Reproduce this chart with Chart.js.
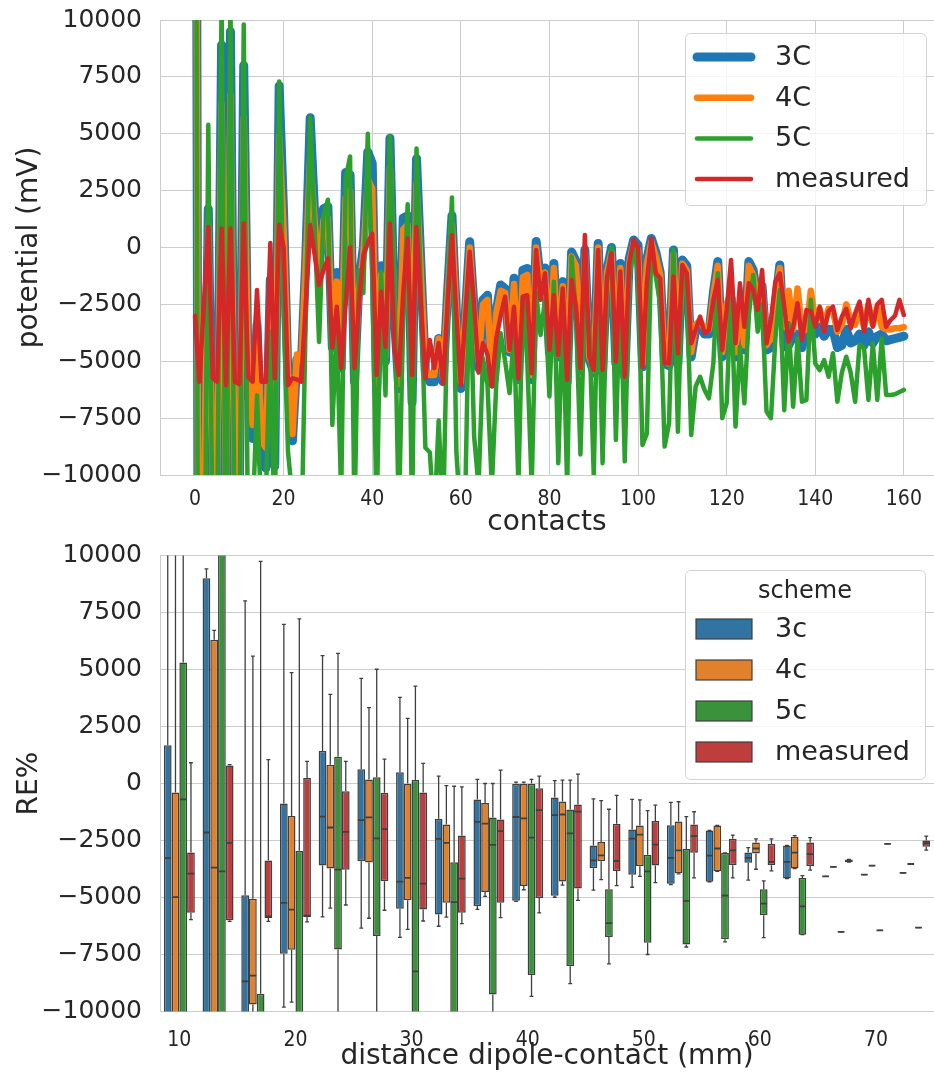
<!DOCTYPE html>
<html>
<head>
<meta charset="utf-8">
<script src="https://cdn.jsdelivr.net/npm/chart.js@4.4.1/dist/chart.umd.min.js"></script>
<style>
  html, body { margin: 0; padding: 0; background: #ffffff; }
  #wrap { position: relative; width: 934px; height: 1077px; }
  #potentialChart { position: absolute; left: 0; top: 0; }
  #errorChart { position: absolute; left: 0; top: 540px; }
</style>
</head>
<body>
<div id="wrap">
  <canvas id="potentialChart" width="934" height="540"></canvas>
  <canvas id="errorChart" width="934" height="537"></canvas>
</div>
<script>
// ---------- potential along the contacts (mV) ----------
const contacts = Array.from({ length: 161 }, (_, i) => i);

const pot3C = [
  45000, -40000, -12000, 1700, -11000, -10500, 8900, -12000, 9500, -12000,
  -11000, 8000, -6000, -8400, -3400, -9500, -9700, -1400, -9600, 7100,
  1500, -5900, -8500, -4900, -5200, -500, 5700, 1500, -1000, 1700,
  1800, -4400, -1100, -5300, 3300, 3200, -5900, -1500, 0, 4200,
  3700, -6300, -800, -5000, 4800, -3000, -6200, 1300, 1400, -6800,
  3900, -800, -5500, -5900, -5900, -4000, -5900, -2000, 1400, -3000,
  -6200, -3000, 250, -2700, -5300, -2300, -2100, -6000, -2800, -1650,
  -1800, -4600, -1350, -5800, -1000, -920, -5800, 260, -1500, -900,
  -4600, -700, -4800, -1500, -5900, -200, -600, -5400, -100, -4900,
  -5500, 180, -5500, -1000, 0, -5100, -700, -5700, -500, 330,
  100, -5240, -500, 400, -200, -1100, -5100, -5200, -110, -5100,
  -550, -800, -4800, -3600, -3400, -3800, -3800, -2000, -620, -4800,
  -2700, -2200, -4800, -2600, -4500, -620, -1000, -2400, -1700, -4500,
  -4400, -2500, -770, -4360, -4300, -3900, -3800, -4400, -3300, -3700,
  -3800, -3500, -3900, -3600, -3600, -4400, -4300, -3600, -4200, -4100,
  -3800, -4300, -3700, -4200, -3900, -3800, -4100, -4050, -4000, -3950,
  -3900
];

const pot4C = [
  40000, -35000, -11000, 1000, -10500, -10000, 6300, -11000, 6700, -11000,
  -10500, 5700, -5500, -7800, -3000, -8500, -8800, -2000, -8500, 4900,
  800, -5500, -8200, -4700, -5000, -700, 3900, 1200, -1200, 1200,
  1300, -4200, -1500, -5000, 2200, 2500, -5600, -1800, -300, 3000,
  2600, -6000, -1200, -4800, 3500, -3000, -6000, 800, 1000, -6300,
  2800, -1200, -5300, -5600, -5600, -4000, -5700, -2200, 1000, -3000,
  -5900, -3000, 0, -2800, -5000, -2500, -2300, -5800, -2900, -1900,
  -2000, -4500, -1600, -5600, -1300, -1200, -5600, 0, -1700, -1100,
  -4500, -900, -4700, -1700, -5700, -400, -800, -5300, -300, -4800,
  -5400, 0, -5400, -1100, -200, -5000, -900, -5600, -700, 200,
  -100, -5100, -700, 250, -400, -1200, -5000, -5100, -300, -5000,
  -700, -1000, -4600, -3400, -3200, -3600, -3600, -2100, -800, -4600,
  -2500, -2000, -4600, -2400, -4300, -800, -1200, -2300, -1600, -4300,
  -4000, -2000, -900, -3500, -1900, -3600, -1800, -3700, -3600, -1900,
  -3300, -2700, -3400, -2700, -2800, -3700, -3400, -2500, -3200, -3400,
  -2600, -3500, -2500, -3400, -2600, -3500, -3600, -3600, -3550, -3550,
  -3500
];

const pot5C = [
  40000, -45000, -20000, 5400, -14000, -13000, 11000, -16000, 11000, -15000,
  -14000, 9800, -14000, -12000, -6500, -12000, -11000, -3700, -13000, 7300,
  -3000, -9000, -11000, -12000, -13000, -3000, 5700, 1000, -4150, 1400,
  2100, -7800, -3500, -11000, 3000, 4000, -12000, -1000, -2000, 5000,
  -1000, -12000, -1070, -6500, 4900, -1500, -12000, -3000, 1900, -12000,
  4350, -2000, -8800, -9000, -12000, -7600, -12000, -2500, 2200, -9000,
  -12000, -11000, -800, -8300, -10500, -4870, -6000, -10500, -6000, -3770,
  -5000, -6400, -3800, -10500, -2160, -5000, -10500, -2000, -3850, -2300,
  -6550, -1500, -9480, -2500, -10500, -400, -3000, -9100, -2000, -3500,
  -10000, -1000, -9480, -1500, 0, -8460, -1500, -9400, -1500, 0,
  -1000, -8680, -8170, 0, -1280, -2500, -8750, -7720, -110, -8100,
  -840, -2000, -8240, -6110, -5680, -6260, -6630, -5090, -1130, -7500,
  -6850, -2000, -7870, -4360, -6850, -3000, -1210, -3700, -2500, -7210,
  -7500, -4000, -1870, -7150, -3330, -7000, -4000, -6780, -6700, -2300,
  -5100, -5390, -4950, -5680, -4650, -6780, -5500, -4800, -5500, -6780,
  -4280, -4400, -6700, -4210, -6700, -4000, -6480, -6480, -6450, -6350,
  -6260
];

const potMeasured = [
  -3000, -5900, -2500, 900, -5750, -5900, 830, -6050, 830, -5900,
  -6000, 1050, -5700, -5900, -1870, -5900, -5900, 200, -5750, 1000,
  0, -6050, -5750, -5800, -5900, -2500, 980, -300, -1650, -1000,
  -480, -4400, -2600, -5300, -2500, 0, -5300, -2500, -340, 200,
  600, -5600, -1950, -4360, 1050, -4440, -5600, -2000, 400, -5600,
  900, -2500, -5750, -4070, -5300, -4200, -5980, -2500, 540, -3000,
  -6050, -3000, -190, -2500, -5500, -4200, -4700, -6100, -4000, -3000,
  -2160, -4500, -2600, -5750, -2160, -2100, -5530, -110, -2300, -1130,
  -4500, -2100, -4720, -1800, -5820, -1430, -2600, -5300, 550, -4800,
  -5380, -110, -5380, -1280, -260, -5020, -1060, -5680, -700, 330,
  0, -5240, -1500, 400, -1130, -1355, -5090, -5090, -1280, -4650,
  -770, -1130, -4210, -3630, -3040, -3770, -3630, -2300, -1430, -4500,
  -2750, -550, -4200, -1575, -3480, -1575, -1870, -2750, -990, -4210,
  -3190, -1500, -1140, -2600, -4140, -3500, -2450, -4070, -2750, -2800,
  -3480, -2600, -3700, -2800, -2600, -3630, -3040, -2700, -3550, -2890,
  -2380, -3700, -2300, -3480, -2500, -2300, -3480, -3190, -3000, -2300,
  -2970
];

const contactTicks = [0, 20, 40, 60, 80, 100, 120, 140, 160];
const potentialTicks = [-10000, -7500, -5000, -2500, 0, 2500, 5000, 7500, 10000];

// ---------- relative error by dipole-contact distance ----------
// each entry: [lower whisker, q1, median, q3, upper whisker]
const distanceMm = [10, 13.33, 16.67, 20, 23.33, 26.67, 30, 33.33, 36.67, 40,
                    43.33, 46.67, 50, 53.33, 56.67, 60, 63.33, 66.67, 70, 73.33];
const distanceTicks = [10, 20, 30, 40, 50, 60, 70];
const errorTicks = [-10000, -7500, -5000, -2500, 0, 2500, 5000, 7500, 10000];

const re3c = [
  [-40000, -15000, -3270, 1680, 30000],
  [-40000, -15000, -2150, 9000, 9410],
  [-40000, -15000, -8680, -4900, 8010],
  [-9810, -7470, -5240, -880, 6980],
  [-5850, -3600, -1450, 1420, 5610],
  [-6340, -3410, -1610, 620, 4610],
  [-6750, -5490, -4300, 490, 3780],
  [-6260, -5750, -2430, -1550, 320],
  [-5520, -5370, -1680, -700, 180],
  [-5170, -5140, -1470, 0, 60],
  [-4990, -4920, -1390, -610, 130],
  [-4680, -3720, -3370, -2720, -670],
  [-4550, -4000, -2420, -2020, -700],
  [-4430, -4400, -3260, -1830, -830],
  [-4310, -4310, -3160, -2060, -2060],
  [-4240, -3480, -3260, -3030, -2810],
  [-4170, -4170, -3440, -2720, -2720],
  [-4070, -4070, -4070, -4070, -4070],
  [-4000, -4000, -4000, -4000, -4000],
  [-3920, -3920, -3920, -3920, -3920]
];
const re4c = [
  [-40000, -15000, -4980, -395, 30000],
  [-40000, -15000, -3690, 6310, 6720],
  [-15000, -9690, -8430, -5060, 5590],
  [-9590, -7290, -5530, -1430, 4860],
  [-5470, -3730, -1930, 820, 3910],
  [-5910, -3470, -1490, 180, 3330],
  [-6400, -5120, -4140, 0, 2860],
  [-5860, -5230, -2600, -1800, -90],
  [-4950, -4760, -1760, -860, 0],
  [-4660, -4500, -1530, 0, 60],
  [-4460, -4300, -1360, -790, 150],
  [-4220, -3410, -3150, -2570, -750],
  [-4070, -3630, -2240, -1840, -720],
  [-3960, -3940, -2930, -1670, -800],
  [-3850, -3850, -2850, -1840, -1840],
  [-3760, -3070, -2850, -2590, -2430],
  [-3730, -3730, -3030, -2340, -2290],
  [-3660, -3660, -3660, -3660, -3660],
  [-3600, -3600, -3600, -3600, -3600],
  [-3530, -3530, -3530, -3530, -3530]
];
const re5c = [
  [-40000, -15000, -700, 5310, 30000],
  [-40000, -15000, -3850, 15000, 30000],
  [-40000, -15000, -11000, -9220, 9740],
  [-40000, -15000, -10500, -2950, 7220],
  [-15000, -7280, -3780, 1170, 5710],
  [-15000, -6690, -2410, 270, 5010],
  [-20000, -12000, -8240, 150, 4270],
  [-20000, -12000, -5200, -3450, -120],
  [-12000, -9250, -2690, -1490, 0],
  [-9340, -8400, -2370, 0, 180],
  [-8780, -8010, -2190, -1140, 150],
  [-7910, -6730, -6120, -4640, -1130],
  [-7500, -6990, -3850, -3120, -1190],
  [-7170, -7060, -5150, -2870, -1450],
  [-6950, -6830, -4920, -3040, -3040],
  [-6760, -5780, -5270, -4640, -4270],
  [-6630, -6630, -5390, -4140, -4040],
  [-6510, -6510, -6510, -6510, -6510],
  [-6440, -6440, -6440, -6440, -6440],
  [-6320, -6320, -6320, -6320, -6320]
];
const reMeasured = [
  [-5970, -5670, -3950, -3030, 910],
  [-6050, -6000, -2600, 790, 830],
  [-6050, -5900, -5830, -3380, 1050],
  [-6070, -5850, -5800, 240, 970],
  [-5330, -3780, -2120, -340, 970],
  [-5560, -4290, -2000, -410, 1070],
  [-6030, -5530, -4390, -400, 880],
  [-6150, -5670, -4170, -2280, -150],
  [-5880, -5230, -2090, -1580, 590],
  [-5670, -5020, -1170, -210, 320],
  [-5130, -4610, -1230, -920, 410],
  [-4480, -3840, -3400, -1760, -520],
  [-4350, -3600, -2680, -1650, -950],
  [-4140, -3040, -2310, -1800, -1240],
  [-4140, -3590, -2930, -2420, -2260],
  [-3830, -3590, -3440, -2650, -2430],
  [-3800, -3620, -3100, -2590, -2370],
  [-3450, -3450, -3390, -3330, -3330],
  [-2650, -2650, -2650, -2650, -2650],
  [-2920, -2770, -2620, -2500, -2310]
];

// ---------- shared styling ----------
const textColor = '#262626';
const gridColor = '#cccccc';
const edgeGray = '#3f3f3f';
const baseFont = "'DejaVu Sans', 'Liberation Sans', sans-serif";
const narrowFont = "'DejaVu Sans Condensed', 'DejaVu Sans', sans-serif";

function minusLabel(v) {
  return v < 0 ? '\u2212' + Math.abs(v) : String(v);
}

// keep the plot box where the layout padding puts it
function fixedLeftAxis(s) {
  s.width = 160;
  s.paddingTop = 0;
  s.paddingBottom = 0;
}

function legendFrame(ctx, x, y, w, h, r) {
  ctx.beginPath();
  ctx.moveTo(x + r, y);
  ctx.arcTo(x + w, y, x + w, y + h, r);
  ctx.arcTo(x + w, y + h, x, y + h, r);
  ctx.arcTo(x, y + h, x, y, r);
  ctx.arcTo(x, y, x + w, y, r);
  ctx.closePath();
  ctx.fillStyle = 'rgba(255,255,255,0.8)';
  ctx.fill();
  ctx.strokeStyle = '#d4d4d4';
  ctx.lineWidth = 1;
  ctx.stroke();
}

// legend with line samples for the potential chart
const lineLegend = {
  id: 'lineLegend',
  afterDraw(chart) {
    const ctx = chart.ctx;
    ctx.save();
    legendFrame(ctx, 685.5, 33.5, 241, 172, 5);
    ctx.font = '27px ' + baseFont;
    ctx.textBaseline = 'middle';
    ctx.textAlign = 'left';
    chart.data.datasets.forEach((ds, i) => {
      const y = 57 + i * 40.7;
      ctx.beginPath();
      ctx.lineCap = 'round';
      ctx.strokeStyle = ds.borderColor;
      ctx.lineWidth = ds.borderWidth;
      ctx.moveTo(697, y);
      ctx.lineTo(751, y);
      ctx.stroke();
      ctx.fillStyle = textColor;
      ctx.fillText(ds.label, 775, y + 1);
    });
    ctx.restore();
  }
};

// whiskers, caps and medians on top of the floating box bars
const boxWhiskers = {
  id: 'boxWhiskers',
  afterDatasetsDraw(chart) {
    const { ctx, chartArea: a } = chart;
    const yS = chart.scales.y;
    const py = v => yS.getPixelForValue(v);
    ctx.save();
    ctx.beginPath();
    ctx.rect(a.left, a.top, a.right - a.left, a.bottom - a.top);
    ctx.clip();
    ctx.strokeStyle = edgeGray;
    chart.data.datasets.forEach((ds, k) => {
      const meta = chart.getDatasetMeta(k);
      meta.data.forEach((bar, i) => {
        const [lo, q1, med, q3, hi] = ds.stats[i];
        const x = bar.x, half = bar.width / 2, cap = bar.width / 4;
        ctx.lineWidth = 1.3;
        ctx.beginPath();
        ctx.moveTo(x, py(q3)); ctx.lineTo(x, py(hi));
        ctx.moveTo(x, py(q1)); ctx.lineTo(x, py(lo));
        ctx.moveTo(x - cap, py(hi)); ctx.lineTo(x + cap, py(hi));
        ctx.moveTo(x - cap, py(lo)); ctx.lineTo(x + cap, py(lo));
        ctx.stroke();
        ctx.lineWidth = 1.8;
        ctx.beginPath();
        ctx.moveTo(x - half + 0.5, py(med));
        ctx.lineTo(x + half - 0.5, py(med));
        ctx.stroke();
      });
    });
    ctx.restore();
  }
};

// legend with colour patches for the box chart
const boxLegend = {
  id: 'boxLegend',
  afterDraw(chart) {
    const ctx = chart.ctx;
    const top = 570 - 540;
    ctx.save();
    legendFrame(ctx, 685.5, top + 0.5, 240, 209, 5);
    ctx.fillStyle = textColor;
    ctx.textBaseline = 'middle';
    ctx.textAlign = 'center';
    ctx.font = '24px ' + baseFont;
    ctx.fillText('scheme', 805, top + 22);
    ctx.textAlign = 'left';
    ctx.font = '27px ' + baseFont;
    chart.data.datasets.forEach((ds, i) => {
      const y = top + 59 + i * 41;
      ctx.fillStyle = ds.backgroundColor;
      ctx.fillRect(696, y - 10, 56, 20);
      ctx.strokeStyle = edgeGray;
      ctx.lineWidth = 1.2;
      ctx.strokeRect(696, y - 10, 56, 20);
      ctx.fillStyle = textColor;
      ctx.fillText(ds.label, 775, y + 1);
    });
    ctx.restore();
  }
};

// ---------- top chart: potential per contact ----------
new Chart(document.getElementById('potentialChart'), {
  type: 'line',
  data: {
    labels: contacts,
    datasets: [
      { label: '3C', data: pot3C, borderColor: '#1f77b4', borderWidth: 9, order: 4 },
      { label: '4C', data: pot4C, borderColor: '#ff7f0e', borderWidth: 6.5, order: 3 },
      { label: '5C', data: pot5C, borderColor: '#2ca02c', borderWidth: 4.5, order: 2 },
      { label: 'measured', data: potMeasured, borderColor: '#d62728', borderWidth: 4.5, order: 1 }
    ]
  },
  options: {
    responsive: false,
    animation: false,
    events: [],
    layout: { padding: { top: 20, left: 0, right: 0, bottom: 0 } },
    elements: {
      point: { radius: 0 },
      line: { tension: 0, borderJoinStyle: 'round', borderCapStyle: 'round', fill: false }
    },
    datasets: { line: { clip: 0 } },
    plugins: { legend: { display: false }, tooltip: { enabled: false } },
    scales: {
      x: {
        type: 'linear',
        min: -7.9,
        max: 166.8,
        afterBuildTicks: s => { s.ticks = contactTicks.map(v => ({ value: v })); },
        afterFit: s => { s.height = 65; s.paddingLeft = 0; s.paddingRight = 0; },
        grid: { color: gridColor, lineWidth: 1, drawTicks: false },
        border: { color: gridColor, width: 1 },
        ticks: { padding: 12, color: textColor, font: { family: narrowFont, size: 21 }, maxRotation: 0, autoSkip: false },
        title: { display: true, text: 'contacts', color: textColor, font: { family: baseFont, size: 28 }, padding: 0 }
      },
      y: {
        min: -10000,
        max: 10000,
        afterBuildTicks: s => { s.ticks = potentialTicks.map(v => ({ value: v })); },
        afterFit: fixedLeftAxis,
        grid: { color: gridColor, lineWidth: 1, drawTicks: false },
        border: { color: gridColor, width: 1 },
        ticks: { padding: 18, color: textColor, font: { family: baseFont, size: 25 }, callback: v => minusLabel(v) },
        title: { display: true, text: 'potential (mV)', color: textColor, font: { family: baseFont, size: 28 }, padding: { top: 13, bottom: 0 } }
      }
    }
  },
  plugins: [lineLegend]
});

// ---------- bottom chart: RE% box plots by distance ----------
const schemes = [
  { label: '3c', color: '#3274a1', stats: re3c },
  { label: '4c', color: '#e1812c', stats: re4c },
  { label: '5c', color: '#3a923a', stats: re5c },
  { label: 'measured', color: '#c03d3e', stats: reMeasured }
];

new Chart(document.getElementById('errorChart'), {
  type: 'bar',
  data: {
    labels: distanceMm.map(String),
    datasets: schemes.map(s => ({
      label: s.label,
      data: s.stats.map(b => [b[1], b[3]]),
      stats: s.stats,
      backgroundColor: s.color,
      borderColor: edgeGray,
      borderWidth: 1.5,
      borderSkipped: false,
      categoryPercentage: 0.8,
      barPercentage: 1.0,
      clip: 0
    }))
  },
  options: {
    responsive: false,
    animation: false,
    events: [],
    layout: { padding: { top: 15.5, left: 0, right: 0, bottom: 0 } },
    plugins: { legend: { display: false }, tooltip: { enabled: false } },
    scales: {
      x: {
        type: 'category',
        offset: true,
        afterFit: s => { s.height = 65.5; s.paddingLeft = 0; s.paddingRight = 0; },
        grid: { display: false, drawTicks: false },
        border: { color: gridColor, width: 1 },
        ticks: {
          padding: 16, color: textColor, font: { family: narrowFont, size: 21 },
          maxRotation: 0, autoSkip: false,
          callback: (v, i) => {
            const d = distanceMm[i];
            const t = distanceTicks.find(m => Math.abs(m - d) < 0.05);
            return t === undefined ? '' : String(t);
          }
        },
        title: { display: true, text: 'distance dipole-contact (mm)', color: textColor, font: { family: baseFont, size: 28 }, padding: { top: 0, bottom: 3 } }
      },
      y: {
        min: -10000,
        max: 10000,
        afterBuildTicks: s => { s.ticks = errorTicks.map(v => ({ value: v })); },
        afterFit: fixedLeftAxis,
        grid: { color: gridColor, lineWidth: 1, drawTicks: false },
        border: { color: gridColor, width: 1 },
        ticks: { padding: 18, color: textColor, font: { family: baseFont, size: 25 }, callback: v => minusLabel(v) },
        title: { display: true, text: 'RE%', color: textColor, font: { family: baseFont, size: 28 }, padding: { top: 13, bottom: 0 } }
      }
    }
  },
  plugins: [boxWhiskers, boxLegend]
});
</script>
</body>
</html>
